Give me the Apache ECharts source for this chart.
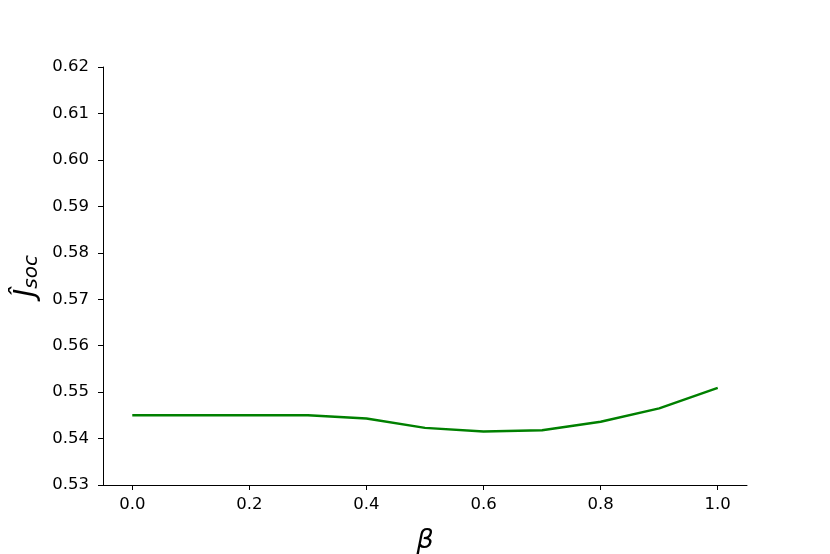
<!DOCTYPE html>
<html>
<head>
<meta charset="utf-8">
<script src="https://cdn.jsdelivr.net/npm/echarts@6/dist/echarts.min.js"></script>
<style>
  html, body { margin: 0; padding: 0; background: #fff; }
  #chart { width: 830px; height: 554px; }
</style>
</head>
<body>
<div id="chart"></div>
<script>
// beta values and J_soc estimates
var betaValues = [0.0, 0.1, 0.2, 0.3, 0.4, 0.5, 0.6, 0.7, 0.8, 0.9, 1.0]
var jsocValues = [0.545, 0.545, 0.545, 0.545, 0.5443, 0.5423, 0.5415, 0.5418, 0.5436, 0.5465, 0.5509]
var xTickValues = [0, 0.2, 0.4, 0.6, 0.8, 1.0]

var seriesData = []
for (let i = 0; i < betaValues.length; i++) {
  seriesData.push([betaValues[i], jsocValues[i]])
}

var chart = echarts.init(document.getElementById('chart'))
var axisLine = { show: true, onZero: false, lineStyle: { color: '#000', width: 1 } }
var axisTick = { show: true, inside: false, length: 5, lineStyle: { color: '#000', width: 1 } }
var axisLabel = { color: '#000', fontSize: 16.5, fontFamily: 'DejaVu Sans' }

chart.setOption({
  animation: false,
  grid: { left: 103, right: 83, top: 67, bottom: 69, containLabel: false, outerBoundsMode: 'none' },
  xAxis: {
    type: 'value',
    min: -0.05,
    max: 1.05,
    axisLine: axisLine,
    axisTick: Object.assign({}, axisTick, { customValues: xTickValues }),
    splitLine: { show: false },
    axisLabel: Object.assign({}, axisLabel, {
      margin: 11,
      customValues: xTickValues,
      formatter: v => v.toFixed(1)
    }),
    name: 'β',
    nameLocation: 'middle',
    nameGap: 42,
    nameTextStyle: { fontSize: 27, fontStyle: 'italic', fontFamily: 'DejaVu Sans', color: '#000' }
  },
  yAxis: {
    type: 'value',
    min: 0.53,
    max: 0.62,
    interval: 0.01,
    axisLine: axisLine,
    axisTick: axisTick,
    splitLine: { show: false },
    axisLabel: Object.assign({}, axisLabel, { margin: 14, formatter: v => v.toFixed(2) }),
    name: '{j|Ĵ}{s|soc}',
    nameLocation: 'middle',
    nameGap: 58,
    nameRotate: 90,
    nameTextStyle: {
      color: '#000',
      rich: {
        j: { fontSize: 28, fontStyle: 'italic', fontFamily: 'DejaVu Sans', color: '#000', verticalAlign: 'top' },
        s: { fontSize: 20, fontStyle: 'italic', fontFamily: 'DejaVu Sans', color: '#000', verticalAlign: 'bottom', padding: [9, 0, 0, 0] }
      }
    }
  },
  series: [
    {
      type: 'line',
      data: seriesData,
      symbol: 'none',
      smooth: false,
      lineStyle: { color: '#008000', width: 2.5 }
    }
  ]
})
</script>
</body>
</html>
